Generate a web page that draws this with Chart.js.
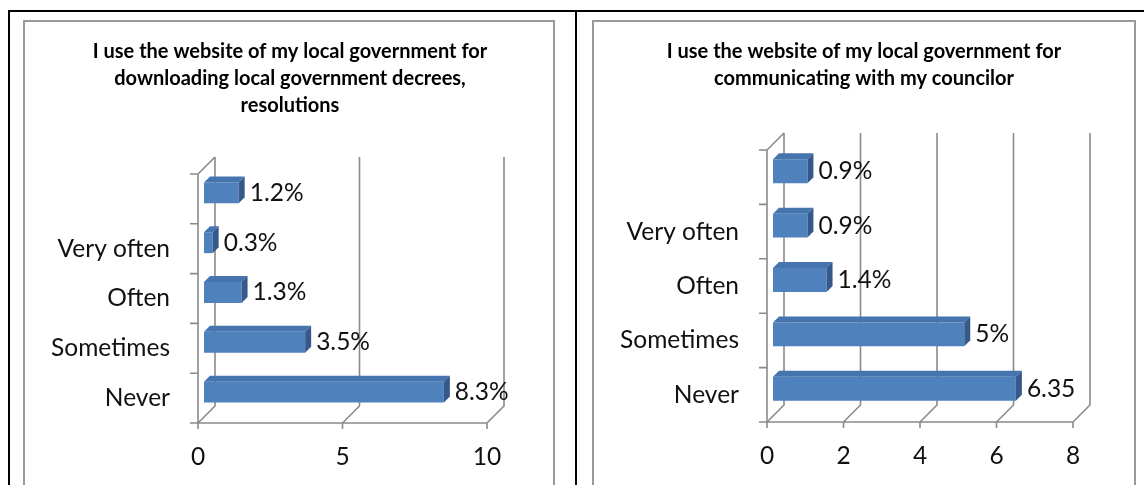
<!DOCTYPE html>
<html lang="en">
<head>
<meta charset="UTF-8">
<title>Use of the local government website</title>
<script src="https://cdn.jsdelivr.net/npm/chart.js"></script>
<style>
html, body {
    margin: 0;
    padding: 0;
    width: 1144px;
    height: 485px;
    overflow: hidden;
    background: #fff;
}
.rule { position: absolute; background: #000; }
.frame {
    position: absolute;
    border: 2px solid #9a9a9a;
    box-sizing: border-box;
}
canvas { position: absolute; }
</style>
</head>
<body>
<!-- table cell borders -->
<div class="rule" style="left:8px; top:10px; width:1136px; height:2px"></div>
<div class="rule" style="left:8px; top:10px; width:2px; height:480px"></div>
<div class="rule" style="left:575px; top:10px; width:2px; height:480px"></div>

<div class="frame" style="left:23px; top:20px; width:532px; height:480px"></div>
<div class="frame" style="left:592px; top:20px; width:544px; height:480px"></div>

<canvas id="downloadChart" width="528" height="463" style="left:25px; top:22px"></canvas>
<canvas id="councilChart" width="540" height="463" style="left:594px; top:22px"></canvas>

<script>
// answer categories, top to bottom
const categories = ['', 'Very often', 'Often', 'Sometimes', 'Never'];

// downloading decrees, resolutions
const downloadTitle = ['I use the website of my local government for', 'downloading local government decrees,', 'resolutions'];
const downloadValues = [1.2, 0.3, 1.3, 3.5, 8.3];
const downloadLabels = ['1.2%', '0.3%', '1.3%', '3.5%', '8.3%'];
const downloadTicks = { max: 10, step: 5 };

// communicating with the councilor
const councilTitle = ['I use the website of my local government for', 'communicating with my councilor'];
const councilValues = [0.9, 0.9, 1.4, 5, 6.35];
const councilLabels = ['0.9%', '0.9%', '1.4%', '5%', '6.35'];
const councilTicks = { max: 8, step: 2 };

const FONT = 'Lato';
const TEXT_SIZE = 24.5;
const LINE = '#8a8a8a';
const FRONT = '#4F81BD';
const TOP = '#4674AE';
const SIDE = '#35598A';
const WALL_DEPTH = 17;  // depth of the plot box
const SHIFT = 6;        // bars sit this far behind the front plane
const BAR_DEPTH = 6;

function poly(ctx, pts) {
    ctx.beginPath();
    ctx.moveTo(pts[0][0], pts[0][1]);
    for (let i = 1; i < pts.length; i++) ctx.lineTo(pts[i][0], pts[i][1]);
    ctx.closePath();
    ctx.fill();
}

// multi-line bold title centred on the chart frame
const frameTitle = {
    id: 'frameTitle',
    afterDraw(chart, args, opts) {
        const { ctx } = chart;
        ctx.save();
        ctx.font = 'bold 20px ' + FONT;
        ctx.fillStyle = '#000';
        ctx.textAlign = 'center';
        ctx.textBaseline = 'middle';
        opts.lines.forEach((line, i) => ctx.fillText(line, opts.x, opts.y + i * 27));
        ctx.restore();
    }
};

// back wall, floor edges and the 3d faces of the bars
const box3d = {
    id: 'box3d',
    beforeDatasetsDraw(chart) {
        const { ctx, chartArea: a, scales: { x, y } } = chart;
        const d = WALL_DEPTH;
        ctx.save();
        ctx.strokeStyle = LINE;
        ctx.lineWidth = 1.6;
        ctx.beginPath();
        x.ticks.forEach(t => {
            const px = x.getPixelForValue(t.value);
            ctx.moveTo(px, a.bottom + 6);
            ctx.lineTo(px, a.bottom);
            ctx.lineTo(px + d, a.bottom - d);
            ctx.lineTo(px + d, a.top - d);
        });
        ctx.moveTo(a.left - 8, a.bottom);
        ctx.lineTo(a.right, a.bottom);
        ctx.moveTo(a.left, a.bottom);
        ctx.lineTo(a.left, a.top);
        ctx.lineTo(a.left + d, a.top - d);
        for (let i = 0; i <= chart.data.labels.length; i++) {
            const py = y.getPixelForValue(i - 0.5);
            ctx.moveTo(a.left - 8, py);
            ctx.lineTo(a.left, py);
        }
        ctx.stroke();
        ctx.restore();

        // front faces get drawn by the bar controller inside this offset
        ctx.save();
        ctx.translate(SHIFT, -SHIFT);
    },
    afterDatasetsDraw(chart) {
        const { ctx } = chart;
        const d = BAR_DEPTH;
        chart.getDatasetMeta(0).data.forEach(bar => {
            const { x, y, base, height } = bar.getProps(['x', 'y', 'base', 'height'], true);
            const top = y - height / 2, bottom = y + height / 2;
            ctx.fillStyle = TOP;
            poly(ctx, [[base, top], [x, top], [x + d, top - d], [base + d, top - d]]);
            ctx.fillStyle = SIDE;
            poly(ctx, [[x, top], [x + d, top - d], [x + d, bottom - d], [x, bottom]]);
        });
        ctx.restore();
    }
};

const valueLabels = {
    id: 'valueLabels',
    afterDatasetsDraw(chart, args, opts) {
        const { ctx } = chart;
        ctx.save();
        ctx.font = TEXT_SIZE + 'px ' + FONT;
        ctx.fillStyle = '#111';
        ctx.textAlign = 'left';
        ctx.textBaseline = 'middle';
        chart.getDatasetMeta(0).data.forEach((bar, i) => {
            const { x, y } = bar.getProps(['x', 'y'], true);
            ctx.fillText(opts.texts[i], x + SHIFT + BAR_DEPTH + 5, y - SHIFT);
        });
        ctx.restore();
    }
};

// g: canvas-relative plot box and title position
function makeChart(id, title, values, labels, ticks, g) {
    const canvas = document.getElementById(id);
    new Chart(canvas, {
        type: 'bar',
        data: {
            labels: categories,
            datasets: [{
                data: values,
                backgroundColor: FRONT,
                borderWidth: 0,
                barPercentage: g.bar,
                categoryPercentage: 1
            }]
        },
        options: {
            indexAxis: 'y',
            responsive: false,
            animation: false,
            events: [],
            layout: { padding: { left: 0, right: canvas.width - g.right, top: g.top, bottom: 0 } },
            plugins: {
                legend: { display: false },
                tooltip: { enabled: false },
                title: { display: false },
                frameTitle: { lines: title, x: g.titleX, y: 30 },
                valueLabels: { texts: labels }
            },
            scales: {
                x: {
                    min: 0,
                    max: ticks.max,
                    ticks: { stepSize: ticks.step, color: '#111', font: { family: FONT, size: TEXT_SIZE }, padding: 19 },
                    grid: { display: false, drawTicks: false },
                    border: { display: false },
                    afterFit: s => { s.height = canvas.height - g.bottom; }
                },
                y: {
                    ticks: { color: '#111', font: { family: FONT, size: TEXT_SIZE }, padding: 28 },
                    grid: { display: false, drawTicks: false },
                    border: { display: false },
                    afterFit: s => { s.width = g.left; }
                }
            }
        },
        plugins: [box3d, valueLabels, frameTitle]
    });
}

makeChart('downloadChart', downloadTitle, downloadValues, downloadLabels, downloadTicks,
    { left: 173, right: 462, top: 152, bottom: 401, titleX: 265, bar: 0.42 });
makeChart('councilChart', councilTitle, councilValues, councilLabels, councilTicks,
    { left: 173, right: 479, top: 128, bottom: 400, titleX: 270, bar: 0.44 });
</script>
</body>
</html>
